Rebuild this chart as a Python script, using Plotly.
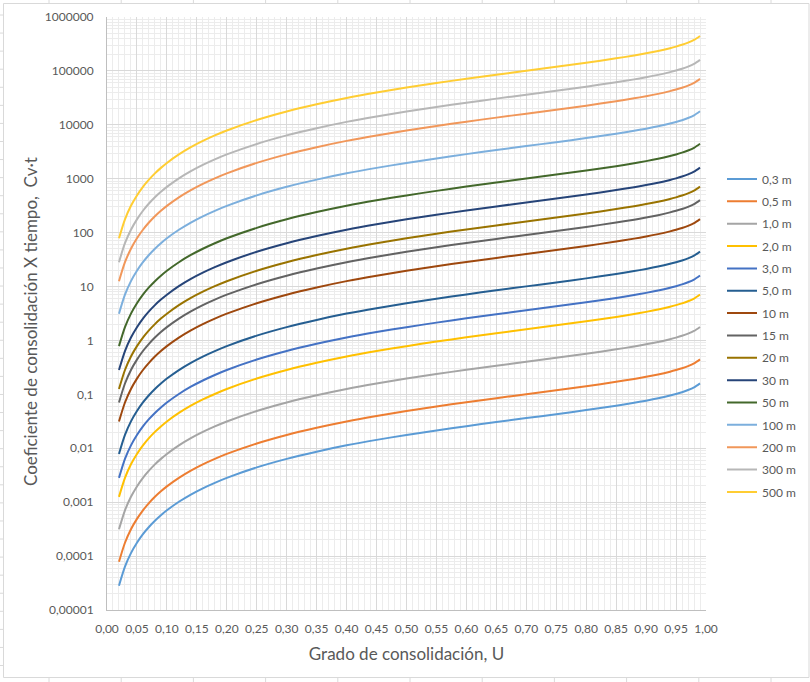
import plotly.graph_objects as go

# Degree of consolidation U (x) and time factor read from the 1,0 m curve (Cv·t for H = 1 m)
u_values = [0.02, 0.03, 0.04, 0.05, 0.06, 0.07, 0.08, 0.09, 0.10, 0.12, 0.14, 0.16, 0.18,
            0.20, 0.25, 0.30, 0.35, 0.40, 0.45, 0.50, 0.55, 0.60, 0.65, 0.70, 0.75, 0.80,
            0.85, 0.88, 0.90, 0.92, 0.94, 0.95, 0.96, 0.97, 0.98, 0.99]
tv_values = [0.000314, 0.000707, 0.00126, 0.00196, 0.00283, 0.00385, 0.00503, 0.00636, 0.00785,
             0.0113, 0.0154, 0.0201, 0.0254, 0.0314, 0.0491, 0.0707, 0.0962, 0.126, 0.159,
             0.196, 0.238, 0.286, 0.340, 0.403, 0.477, 0.567, 0.684, 0.774, 0.848, 0.938,
             1.055, 1.129, 1.219, 1.336, 1.500, 1.781]

# Drainage lengths (legend) in metres
series_names = ["0,3 m", "0,5 m", "1,0 m", "2,0 m", "3,0 m", "5,0 m", "10 m", "15 m", "20 m",
                "30 m", "50 m", "100 m", "200 m", "300 m", "500 m"]
depths = [0.3, 0.5, 1.0, 2.0, 3.0, 5.0, 10, 15, 20, 30, 50, 100, 200, 300, 500]
colors = ["#5B9BD5", "#ED7D31", "#A5A5A5", "#FFC000", "#4472C4", "#255E91", "#9E480E",
          "#636363", "#997300", "#264478", "#43682B", "#7CAFDD", "#F1975A", "#B7B7B7", "#FFCD33"]

y_tickvals = [1e-5, 1e-4, 1e-3, 1e-2, 1e-1, 1, 10, 100, 1000, 10000, 100000, 1000000]
y_ticktext = ["0,00001", "0,0001", "0,001", "0,01", "0,1", "1", "10", "100", "1000",
              "10000", "100000", "1000000"]

x_title = "Grado de consolidación, U"
y_title = "Coeficiente de consolidación X tiempo,  Cv·t"

minor_y = [m * 10 ** e for e in range(-5, 6) for m in range(2, 10)]

W, H = 810, 682
ML, MR, MT, MB = 107, 104, 17, 72
PW, PH = W - ML - MR, H - MT - MB


def px_x(p):
    return (p - ML) / PW


def px_y(p):
    return (H - MB - p) / PH


fig = go.Figure()
for name, h, c in zip(series_names, depths, colors):
    fig.add_trace(go.Scatter(
        x=u_values, y=[t * h * h for t in tv_values], name=name, mode="lines",
        line=dict(color=c, width=2, shape="spline", smoothing=0.8),
        legendgroup=name,
    ))

font_family = "Lato, Carlito, Open Sans, sans-serif"
txt = "#595959"

# chart frame + faint spreadsheet cell lines visible around it
shapes = [dict(type="rect", xref="paper", yref="paper",
               x0=px_x(3.5), x1=px_x(809), y0=px_y(677.5), y1=px_y(3.5),
               line=dict(color="#d9d9d9", width=1), layer="below")]
cell = "#dadada"
for k in range(11):
    cx = 49 + 72.2 * k
    shapes.append(dict(type="line", xref="paper", yref="paper", x0=px_x(cx), x1=px_x(cx),
                       y0=px_y(0), y1=px_y(3.5), line=dict(color=cell, width=1)))
    shapes.append(dict(type="line", xref="paper", yref="paper", x0=px_x(cx), x1=px_x(cx),
                       y0=px_y(677.5), y1=px_y(682), line=dict(color=cell, width=1)))
for k in range(38):
    cy = 15 + 18.07 * k
    shapes.append(dict(type="line", xref="paper", yref="paper", x0=px_x(0), x1=px_x(3.5),
                       y0=px_y(cy), y1=px_y(cy), line=dict(color=cell, width=1)))

fig.update_layout(
    width=W, height=H,
    margin=dict(l=ML, r=MR, t=MT, b=MB, autoexpand=False),
    paper_bgcolor="white", plot_bgcolor="white",
    separators=",.",
    font=dict(family=font_family, color=txt, size=12),
    showlegend=True,
    legend=dict(
        x=px_x(722), xanchor="left", y=px_y(164.5), yanchor="top",
        font=dict(size=12, color=txt, family=font_family),
        tracegroupgap=3.35, itemwidth=30, bgcolor="rgba(0,0,0,0)",
        traceorder="grouped",
    ),
    xaxis=dict(
        range=[0, 1], dtick=0.05, tick0=0, tickformat=".2f", automargin=False,
        showgrid=True, gridcolor="#d9d9d9", gridwidth=1,
        minor=dict(dtick=0.01, showgrid=True, gridcolor="#ececec", gridwidth=1),
        showline=True, linecolor="#bfbfbf", linewidth=1, zeroline=False,
        ticks="", ticklabelstandoff=8,
        tickfont=dict(size=12, color=txt),
        title=dict(text=x_title, font=dict(size=17, color=txt), standoff=12),
    ),
    yaxis=dict(
        type="log", range=[-5, 6], automargin=False,
        tickvals=y_tickvals, ticktext=y_ticktext,
        showgrid=True, gridcolor="#d9d9d9", gridwidth=1,
        minor=dict(tickvals=minor_y, showgrid=True, gridcolor="#ececec", gridwidth=1, ticks=""),
        showline=True, linecolor="#bfbfbf", linewidth=1, zeroline=False,
        ticks="", ticklabelstandoff=10,
        tickfont=dict(size=12, color=txt),
    ),
    annotations=[dict(text=y_title, textangle=-90, showarrow=False,
                      xref="paper", yref="paper", x=px_x(30), y=px_y(322),
                      xanchor="center", yanchor="middle",
                      font=dict(size=17, color=txt, family=font_family))],
    shapes=shapes,
)

fig.write_html("out.html", post_script="document.body.style.margin='0px';",
               config={"displayModeBar": False})
